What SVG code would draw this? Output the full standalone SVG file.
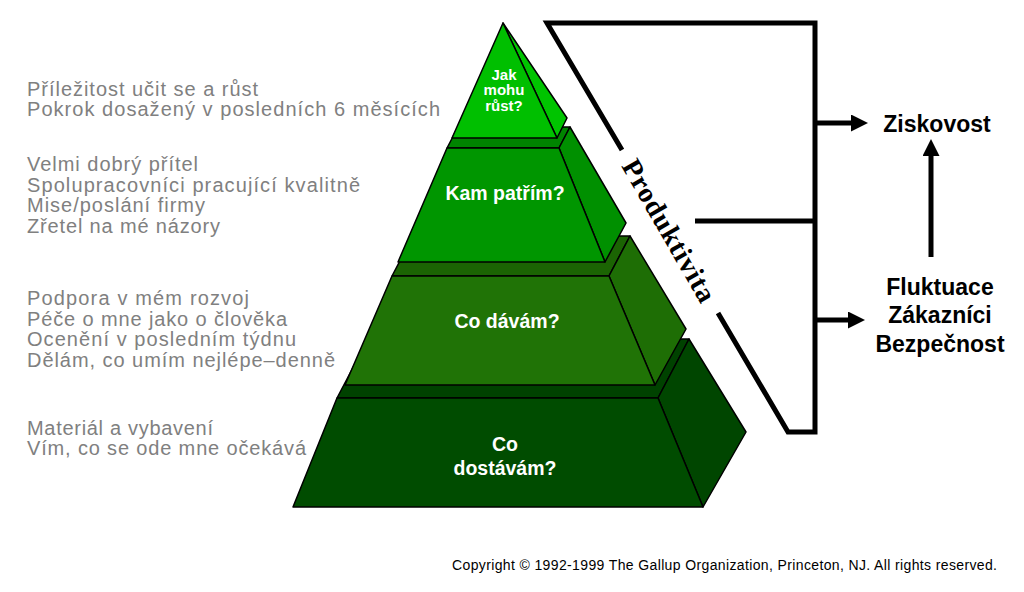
<svg xmlns="http://www.w3.org/2000/svg" width="1024" height="592" viewBox="0 0 1024 592">
<style>
.face{stroke:#000;stroke-width:1.5;stroke-linejoin:round}
.lbl{font-family:"Liberation Sans",Arial,sans-serif;font-weight:bold;fill:#fff;text-anchor:middle}
.note{font-family:"Liberation Sans",Arial,sans-serif;font-size:20px;fill:#808080}
.out{font-family:"Liberation Sans",Arial,sans-serif;font-weight:bold;font-size:23px;fill:#000;text-anchor:middle}
.thick{fill:none;stroke:#000;stroke-width:5}
</style>
<defs>
<marker id="ah" markerUnits="userSpaceOnUse" markerWidth="18" markerHeight="18" refX="0" refY="8.5" orient="auto">
<path d="M0,0 L17,8.5 L0,17 z" fill="#000"/>
</marker>
</defs>
<rect width="1024" height="592" fill="#fff"/>

<g id="tier4">
<polygon class="face" fill="#004200" points="337,398 368,339 689,339 658,398"/>
<polygon class="face" fill="#004600" points="658,398 689,339 746,432 703,507"/>
<polygon class="face" fill="#004c00" points="337,398 658,398 703,507 293,507"/>
<text class="lbl" font-size="19.5" x="505" y="451">Co</text>
<text class="lbl" font-size="19.5" x="505" y="475">dostávám?</text>
</g>

<g id="tier3">
<polygon class="face" fill="#1b6403" points="392,276 413,236 630,236 609,276"/>
<polygon class="face" fill="#1e6e05" points="609,276 630,236 686,329 655,385"/>
<polygon class="face" fill="#207306" points="392,276 609,276 655,385 345,385"/>
<text class="lbl" font-size="19.5" x="507" y="328">Co dávám?</text>
</g>

<g id="tier2">
<polygon class="face" fill="#008400" points="447,148 458,127 570,127 559,148"/>
<polygon class="face" fill="#009000" points="559,148 570,127 626,223 605,262"/>
<polygon class="face" fill="#009600" points="447,148 559,148 605,262 398,262"/>
<text class="lbl" font-size="19.5" x="505" y="200">Kam patřím?</text>
</g>

<g id="tier1">
<polygon class="face" fill="#00c400" points="503,23 567,118 557,138"/>
<polygon class="face" fill="#00bf00" points="503,23 557,138 452,138"/>
<text class="lbl" font-size="15" x="504" y="80">Jak</text>
<text class="lbl" font-size="15" x="504" y="95">mohu</text>
<text class="lbl" font-size="15" x="504" y="111">růst?</text>
</g>

<g id="notes">
<text class="note" x="27" y="96" textLength="231">Příležitost učit se a růst</text>
<text class="note" x="27" y="116" textLength="413">Pokrok dosažený v posledních 6 měsících</text>
<text class="note" x="27" y="171" textLength="171">Velmi dobrý přítel</text>
<text class="note" x="27" y="192" textLength="333">Spolupracovníci pracující kvalitně</text>
<text class="note" x="27" y="212" textLength="178">Mise/poslání firmy</text>
<text class="note" x="27" y="233" textLength="193">Zřetel na mé názory</text>
<text class="note" x="27" y="305" textLength="222">Podpora v mém rozvoj</text>
<text class="note" x="27" y="326" textLength="260">Péče o mne jako o člověka</text>
<text class="note" x="27" y="346" textLength="269">Ocenění v posledním týdnu</text>
<text class="note" x="27" y="367" textLength="308">Dělám, co umím nejlépe–denně</text>
<text class="note" x="27" y="435" textLength="186">Materiál a vybavení</text>
<text class="note" x="27" y="455" textLength="279">Vím, co se ode mne očekává</text>
</g>

<g id="connectors">
<polyline class="thick" stroke-linejoin="miter" points="622,150 547,23 815,23 815,432 788,432 718,313"/>
<line class="thick" x1="695" y1="221" x2="815" y2="221"/>
<line class="thick" x1="815" y1="123" x2="851" y2="123" marker-end="url(#ah)"/>
<line class="thick" x1="815" y1="320" x2="848" y2="320" marker-end="url(#ah)"/>
<line class="thick" x1="931" y1="257" x2="931" y2="156" marker-end="url(#ah)"/>
</g>

<g id="produktivita">
<text transform="translate(621,166) rotate(60)" font-family="'Liberation Serif','Times New Roman',serif" font-weight="bold" font-size="28" textLength="160" fill="#000">Produktivita</text>
</g>

<g id="ziskovost">
<text class="out" x="937" y="132">Ziskovost</text>
</g>
<g id="fluktuace">
<text class="out" x="940" y="295">Fluktuace</text>
<text class="out" x="940" y="323">Zákazníci</text>
<text class="out" x="940" y="352">Bezpečnost</text>
</g>

<text x="452" y="570" font-family="'Liberation Sans',Arial,sans-serif" font-size="14" textLength="545" fill="#000">Copyright © 1992-1999 The Gallup Organization, Princeton, NJ. All rights reserved.</text>
</svg>
